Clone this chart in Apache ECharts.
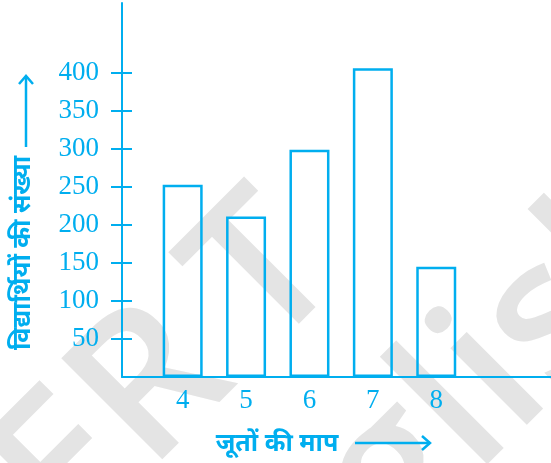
<!DOCTYPE html>
<html>
<head>
<meta charset="utf-8">
<script src="https://cdn.jsdelivr.net/npm/echarts@6/dist/echarts.min.js"></script>
<style>
  html, body { margin: 0; padding: 0; background: #fff; }
  #chart { width: 551px; height: 463px; }
</style>
</head>
<body>
<div id="chart"></div>
<script>
// जूतों की माप -> विद्यार्थियों की संख्या
const shoeSizes = [4, 5, 6, 7, 8];
const studentCounts = [253, 211, 299, 406, 145];
const yTickValues = [50, 100, 150, 200, 250, 300, 350, 400];

const yTitle = 'विद्यार्थियों की संख्या';
const xTitle = 'जूतों की माप';

let cyan = '#00aeef';
let grey = '#e4e4e4';
let numFont = '"Liberation Serif", "DejaVu Serif", serif';
let markFont = '600 200px "Open Sans", "DejaVu Sans", sans-serif';
let titleFont = 'bold 25px "Noto Sans", sans-serif';

let barData = shoeSizes.map(function (s, i) {
  return [s, studentCounts[i]];
});

// watermark text, placed along a 45 degree line
function mark(text, x, y, align) {
  return {
    type: 'text', x: x, y: y, rotation: Math.PI / 4, z: -10, silent: true,
    style: { text: text, font: markFont, fill: grey, align: align, verticalAlign: 'middle' }
  };
}

let option = {
  backgroundColor: '#fff',
  animation: false,
  grid: {
    left: 122,
    right: 0,
    top: 3,
    bottom: 86,
    containLabel: false
  },
  graphic: [
    mark('NCER', 199, 342, 'right'),
    mark('T', 267, 275, 'center'),
    mark('Engl', 475, 396, 'right'),
    mark('ish', 475, 396, 'left'),
    // y title + arrow
    {
      type: 'text', x: 23, y: 253, rotation: Math.PI / 2,
      style: { text: yTitle, font: titleFont, fill: cyan, align: 'center', verticalAlign: 'middle' }
    },
    {
      type: 'polyline',
      shape: { points: [[26, 147], [26, 76]] },
      style: { stroke: cyan, lineWidth: 2.5, fill: null }
    },
    {
      type: 'polyline',
      shape: { points: [[19, 84], [26, 76], [33, 84]] },
      style: { stroke: cyan, lineWidth: 2.5, fill: null }
    },
    // x title + arrow
    {
      type: 'text', x: 277, y: 444,
      style: { text: xTitle, font: titleFont, fill: cyan, align: 'center', verticalAlign: 'middle' }
    },
    {
      type: 'polyline',
      shape: { points: [[355, 443], [430, 443]] },
      style: { stroke: cyan, lineWidth: 2.5, fill: null }
    },
    {
      type: 'polyline',
      shape: { points: [[422, 436], [430, 443], [422, 450]] },
      style: { stroke: cyan, lineWidth: 2.5, fill: null }
    }
  ],
  xAxis: {
    type: 'value',
    min: 3.043,
    max: 9.81,
    splitLine: { show: false },
    axisTick: { show: false },
    axisLine: { show: true, onZero: false, lineStyle: { color: cyan, width: 2 } },
    axisLabel: {
      customValues: shoeSizes,
      color: cyan,
      fontFamily: numFont,
      fontSize: 27,
      margin: 10
    }
  },
  yAxis: [{
    type: 'value',
    min: 0,
    max: 492,
    splitLine: { show: false },
    axisLine: { show: true, onZero: false, lineStyle: { color: cyan, width: 2 } },
    axisTick: {
      show: true,
      customValues: yTickValues,
      length: 11,
      lineStyle: { color: cyan, width: 2 }
    },
    axisLabel: {
      customValues: yTickValues,
      color: cyan,
      fontFamily: numFont,
      fontSize: 27,
      margin: 23
    }
  }, {
    // ticks crossing to inside of the axis
    type: 'value',
    min: 0,
    max: 492,
    position: 'left',
    splitLine: { show: false },
    axisLine: { show: false },
    axisLabel: { show: false },
    axisTick: {
      show: true,
      inside: true,
      customValues: yTickValues,
      length: 10,
      lineStyle: { color: cyan, width: 2 }
    }
  }],
  series: [{
    type: 'bar',
    yAxisIndex: 0,
    barWidth: 40,
    itemStyle: {
      color: 'rgba(255,255,255,0)',
      borderColor: cyan,
      borderWidth: 2.5
    },
    data: barData
  }]
};

let myChart = echarts.init(document.getElementById('chart'));
myChart.setOption(option);
</script>
</body>
</html>
